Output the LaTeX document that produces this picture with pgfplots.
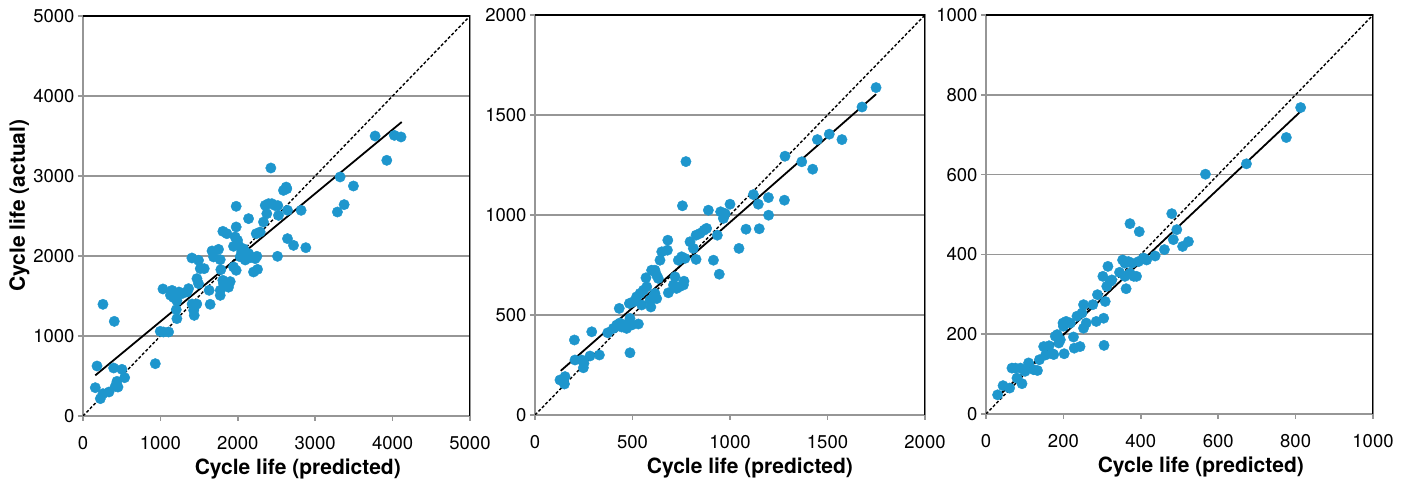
\documentclass[border=0pt]{standalone}
\usepackage{fontspec}
\setmainfont{TeX Gyre Heros}
\usepackage{pgfplots}
\pgfplotsset{compat=1.18}

\definecolor{dot}{RGB}{30,150,205}
\definecolor{gridgray}{RGB}{150,150,150}

\pgfplotsset{
  cyc/.style={
    scale only axis, anchor=south west,
    axis line style={draw=gridgray, line width=1.6pt},
    xtick pos=bottom, ytick pos=left,
    tick align=outside, major tick length=5pt,
    tick style={gridgray, line width=1.6pt},
    ymajorgrids, grid style={gridgray, line width=1.6pt},
    scaled ticks=false,
    /pgf/number format/1000 sep={},
    /pgf/number format/assume math mode=true,
    ticklabel style={font=\fontsize{18.5}{20}\selectfont},
    xticklabel style={yshift=-12pt},
    label style={font=\fontsize{21}{24}\selectfont\bfseries},
    xlabel={Cycle life (predicted)},
    xlabel style={at={(axis description cs:0.555,-0.146)}, anchor=base},
  },
  pts/.style={only marks, mark=*, mark size=5.2pt, color=dot},
  ideal/.style={black, line width=1.4pt, dash pattern=on 3pt off 2pt},
  fit/.style={black, line width=1.8pt},
}

\begin{document}
\begin{tikzpicture}
\useasboundingbox (0,0) rectangle (1411pt,481pt);

% panel 1
\begin{axis}[cyc, at={(83pt,65pt)}, width=387pt, height=400pt,
  xmin=0, xmax=5000, ymin=0, ymax=5000,
  xtick={0,1000,...,5000}, ytick={0,1000,...,5000},
  ylabel={Cycle life (actual)},
  ylabel style={at={(axis description cs:-0.15,0.526)}, anchor=base},
]
\addplot[pts] coordinates {
(181,625)(159,354)(258,279)(224,217)(336,300)(258,1396)(404,1183)(396,600)
(503,583)(439,433)(417,371)(538,479)(452,362)(934,654)(1033,1588)(998,1058)
(1040,1050)(1106,1050)(1150,1570)(1170,1480)(1130,1510)(1215,1520)(1213,1440)
(1240,1550)(1205,1329)(1213,1217)(1278,1529)(1343,1550)(1364,1592)(1407,1975)
(1493,1946)(1515,1842)(1566,1842)(1472,1717)(1493,1654)(1410,1400)(1440,1360)
(1430,1320)(1437,1258)(1470,1400)(1630,1571)(1643,1396)(1667,2063)(1687,1988)
(1751,2083)(1773,1954)(1781,1829)(1773,1571)(1773,1508)(1807,1696)(1816,1654)
(1880,1650)(1902,1680)(1880,1610)(1807,2308)(1859,2279)(1979,2621)(1979,2363)
(1966,2238)(1997,2196)(1945,2121)(2010,2133)(1945,1863)(1979,1821)(2031,1990)
(2050,2050)(2075,2090)(2096,1950)(2140,2030)(2160,1980)(2139,2467)(2203,1800)
(2255,1833)(2225,1967)(2247,1996)(2238,2279)(2289,2300)(2332,2425)(2354,2633)
(2397,2654)(2440,2654)(2375,2529)(2427,3100)(2483,2630)(2517,2630)(2526,2508)
(2513,1996)(2590,2820)(2625,2862)(2633,2840)(2642,2571)(2642,2217)(2720,2133)
(2818,2571)(2879,2104)(3287,2550)(3322,2988)(3374,2642)(3494,2875)(3774,3500)
(3925,3196)(4023,3508)(4109,3488)
};
\addplot[ideal] coordinates {(0,0)(5000,5000)};
\addplot[fit] coordinates {(159,508)(4118,3675)};
\draw[black, line width=1.8pt] (rel axis cs:0,1) -- (rel axis cs:1,1) -- (rel axis cs:1,0);
\end{axis}

% panel 2
\begin{axis}[cyc, at={(535pt,66pt)}, width=390pt, height=400pt,
  xmin=0, xmax=2000, ymin=0, ymax=2000,
  xtick={0,500,...,2000}, ytick={0,500,...,2000},
  xlabel style={at={(axis description cs:0.551,-0.146)}, anchor=base},
]
\addplot[pts] coordinates {
(128,175)(154,192)(151,155)(202,375)(205,275)(239,275)(248,236)(251,258)
(282,295)(291,416)(330,300)(373,411)(402,433)(419,450)(432,533)(435,460)
(444,440)(461,450)(470,433)(479,458)(487,483)(496,450)(487,311)(530,455)
(484,558)(504,566)(521,591)(547,550)(539,608)(556,624)(573,641)(590,574)
(594,540)(607,591)(624,582)(615,608)(569,686)(598,724)(615,724)(624,699)
(632,683)(641,774)(650,816)(679,824)(681,874)(684,611)(710,650)(718,691)
(726,633)(740,641)(735,774)(752,791)(769,783)(761,650)(764,669)(774,1267)
(756,1046)(795,866)(812,833)(826,778)(826,899)(846,908)(867,924)(880,933)
(889,1024)(935,899)(915,774)(945,704)(952,1016)(975,1007)(966,983)(1000,1054)
(1046,833)(1082,929)(1120,1102)(1145,1054)(1150,931)(1197,1087)(1198,999)
(1279,1074)(1282,1294)(1368,1266)(1424,1229)(1448,1377)(1509,1404)(1574,1377)
(1677,1540)(1749,1637)
};
\addplot[ideal] coordinates {(0,0)(2000,2000)};
\addplot[fit] coordinates {(132,221)(1749,1604)};
\draw[black, line width=1.8pt] (rel axis cs:0,1) -- (rel axis cs:1,1) -- (rel axis cs:1,0);
\end{axis}

% panel 3
\begin{axis}[cyc, at={(986pt,67pt)}, width=387pt, height=399pt,
  xmin=0, xmax=1000, ymin=0, ymax=1000,
  xtick={0,200,...,1000}, ytick={0,200,...,1000},
]
\addplot[pts] coordinates {
(30,48)(44,71)(61,65)(67,115)(76,115)(89,115)(93,76)(80,90)(110,128)(101,107)
(123,111)(133,109)(138,136)(149,169)(154,148)(163,171)(172,151)(175,149)
(179,195)(188,178)(192,186)(184,199)(202,151)(199,228)(207,232)(218,228)
(200,220)(226,193)(228,165)(243,169)(235,245)(248,253)(252,274)(252,215)
(259,228)(276,274)(285,232)(288,299)(302,345)(304,240)(305,172)(308,282)
(312,320)(321,332)(325,336)(315,370)(345,355)(353,386)(359,378)(368,382)
(377,378)(362,314)(359,345)(372,353)(382,345)(389,345)(372,477)(396,457)
(394,382)(407,391)(415,386)(437,396)(461,412)(480,502)(484,437)(493,462)
(508,420)(523,432)(567,601)(673,627)(776,693)(813,768)
};
\addplot[ideal] coordinates {(0,0)(1000,1000)};
\addplot[fit] coordinates {(30,43)(817,762)};
\draw[black, line width=1.8pt] (rel axis cs:0,1) -- (rel axis cs:1,1) -- (rel axis cs:1,0);
\end{axis}
\end{tikzpicture}
\end{document}
